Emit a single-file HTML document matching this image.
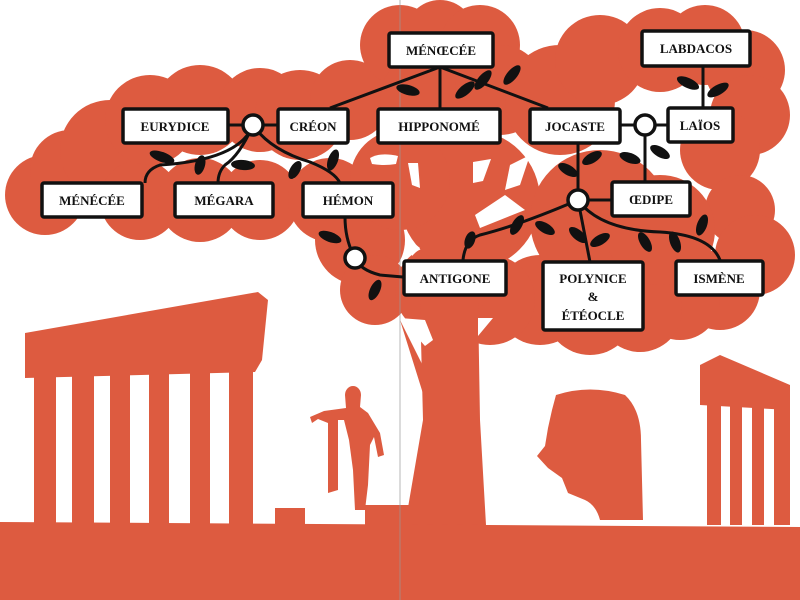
<!DOCTYPE html>
<html><head><meta charset="utf-8"><style>
html,body{margin:0;padding:0;background:#fff;}
svg{display:block}
text{font-family:"Liberation Serif","DejaVu Serif",serif;font-weight:bold;font-size:13px;fill:#111;text-anchor:middle;}
</style></head><body>
<svg width="800" height="600" viewBox="0 0 800 600" xmlns="http://www.w3.org/2000/svg">
<g fill="#dd5b40">
<circle cx="45" cy="195" r="40"/><circle cx="70" cy="170" r="40"/><circle cx="110" cy="150" r="50"/>
<circle cx="140" cy="200" r="40"/><circle cx="200" cy="200" r="42"/><circle cx="260" cy="200" r="40"/>
<circle cx="150" cy="120" r="45"/><circle cx="200" cy="110" r="45"/><circle cx="260" cy="110" r="42"/>
<circle cx="300" cy="115" r="45"/><circle cx="330" cy="200" r="42"/><circle cx="350" cy="100" r="40"/>
<circle cx="360" cy="240" r="45"/><circle cx="375" cy="290" r="35"/>
<circle cx="400" cy="45" r="40"/><circle cx="440" cy="35" r="35"/><circle cx="480" cy="45" r="40"/>
<circle cx="430" cy="100" r="50"/><circle cx="500" cy="90" r="45"/>
<circle cx="560" cy="100" r="55"/><circle cx="600" cy="60" r="45"/><circle cx="660" cy="50" r="42"/>
<circle cx="705" cy="45" r="40"/><circle cx="745" cy="70" r="40"/><circle cx="750" cy="115" r="40"/>
<circle cx="720" cy="150" r="40"/><circle cx="740" cy="210" r="35"/><circle cx="755" cy="255" r="40"/>
<circle cx="720" cy="290" r="40"/><circle cx="680" cy="300" r="40"/><circle cx="640" cy="310" r="42"/>
<circle cx="590" cy="310" r="45"/><circle cx="540" cy="300" r="45"/><circle cx="490" cy="300" r="45"/>
<circle cx="440" cy="290" r="45"/><circle cx="470" cy="200" r="70"/><circle cx="600" cy="220" r="70"/>
<circle cx="660" cy="230" r="55"/><circle cx="400" cy="180" r="50"/>
<path d="M420 300 L478 300 L480 420 L486 525 L405 525 L423 420 Z"/>
<path d="M400 320 L430 380 L425 400 Z"/>
<path d="M0 522 L800 527 L800 600 L0 600 Z"/>
<path d="M25 333 L258 292 L268 300 L262 360 L255 372 L25 378 Z"/>
<rect x="34" y="370" width="22" height="155"/>
<rect x="72" y="370" width="22" height="155"/>
<rect x="110" y="368" width="20" height="157"/>
<rect x="149" y="366" width="20" height="159"/>
<rect x="190" y="364" width="20" height="161"/>
<rect x="229" y="360" width="24" height="165"/>
<rect x="275" y="508" width="30" height="17"/>
<path d="M345 395 a8 9 0 0 1 16 0 l-1 12 l8 6 l12 20 l4 22 l-6 2 l-4 -20 l-4 8 l-2 40 l-3 25 l-10 0 l-2 -40 l-4 -30 l-5 -20 l-6 0 l0 70 l-10 3 l0 -70 l-10 -4 l-6 4 l-2 -6 l14 -6 l22 -3 Z"/>
<rect x="365" y="505" width="45" height="20"/>
<path d="M556 395 Q590 384 625 395 Q641 410 641 440 L643 520 L600 520 Q596 505 585 500 L568 493 L562 478 L548 468 L537 456 L545 446 L548 428 L552 410 Z"/>
<path d="M700 365 L720 355 L790 385 L790 410 L700 405 Z"/>
<rect x="707" y="400" width="14" height="125"/>
<rect x="730" y="405" width="12" height="120"/>
<rect x="752" y="405" width="12" height="120"/>
<rect x="774" y="400" width="16" height="125"/>
</g>
<g fill="#fff">
<path d="M370 158 q10 -6 28 -2 l-2 8 q-12 2 -24 0 Z"/>
<path d="M408 163 l10 0 l2 25 l-8 -3 Z"/>
<path d="M473 162 l18 -3 l-8 22 l-10 2 Z"/>
<path d="M510 165 l20 -10 l-10 30 l-15 5 Z"/>
<path d="M475 215 l30 -20 l20 15 l-45 18 Z"/>
<path d="M410 240 l10 8 l-8 8 Z"/>
<path d="M400 318 l25 2 l8 20 l-8 6 Z"/>
<path d="M478 318 l15 0 l-15 18 Z"/>
</g>
<line x1="400" y1="0" x2="400" y2="600" stroke="#999" stroke-width="0.7"/>
<g stroke="#111" stroke-width="3" fill="none">
<path d="M440 67 L440 108"/><path d="M440 67 L330 108"/><path d="M440 67 L548 108"/>
<path d="M703 66 L703 108"/>
<path d="M620 125 L668 125"/><path d="M645 125 L645 182"/>
<path d="M228 125 L278 125"/>
<path d="M578 143 L578 200 L612 200"/>
<path d="M578 200 Q520 225 480 235 Q465 240 463 260"/>
<path d="M578 200 L590 262"/>
<path d="M578 200 Q600 230 660 232 Q710 235 720 260"/>
<path d="M403 277 L380 275 Q360 270 355 258 Q345 240 345 217"/>
<path d="M253 125 Q240 160 160 165 Q145 170 145 183"/>
<path d="M253 125 Q240 155 225 165 Q218 172 218 183"/>
<path d="M253 125 Q270 150 310 162 Q335 172 340 183"/>
</g>
<g fill="#111">
<ellipse cx="408" cy="90" rx="12" ry="5" transform="rotate(15 408 90)"/>
<ellipse cx="465" cy="90" rx="12" ry="5" transform="rotate(-40 465 90)"/>
<ellipse cx="483" cy="80" rx="12" ry="5" transform="rotate(-50 483 80)"/>
<ellipse cx="512" cy="75" rx="12" ry="5" transform="rotate(-50 512 75)"/>
<ellipse cx="688" cy="83" rx="12" ry="5" transform="rotate(25 688 83)"/>
<ellipse cx="718" cy="90" rx="12" ry="5" transform="rotate(-30 718 90)"/>
<ellipse cx="630" cy="158" rx="11" ry="5" transform="rotate(20 630 158)"/>
<ellipse cx="660" cy="152" rx="11" ry="5" transform="rotate(30 660 152)"/>
<ellipse cx="592" cy="158" rx="11" ry="5" transform="rotate(-30 592 158)"/>
<ellipse cx="568" cy="170" rx="11" ry="5" transform="rotate(30 568 170)"/>
<ellipse cx="517" cy="225" rx="11" ry="5" transform="rotate(-60 517 225)"/>
<ellipse cx="545" cy="228" rx="11" ry="5" transform="rotate(30 545 228)"/>
<ellipse cx="470" cy="240" rx="9" ry="5" transform="rotate(-70 470 240)"/>
<ellipse cx="578" cy="235" rx="11" ry="5" transform="rotate(40 578 235)"/>
<ellipse cx="600" cy="240" rx="11" ry="5" transform="rotate(-30 600 240)"/>
<ellipse cx="645" cy="242" rx="11" ry="5" transform="rotate(60 645 242)"/>
<ellipse cx="675" cy="242" rx="11" ry="5" transform="rotate(70 675 242)"/>
<ellipse cx="702" cy="225" rx="11" ry="5" transform="rotate(-70 702 225)"/>
<ellipse cx="330" cy="237" rx="12" ry="5" transform="rotate(20 330 237)"/>
<ellipse cx="375" cy="290" rx="11" ry="5" transform="rotate(-65 375 290)"/>
<ellipse cx="162" cy="157" rx="13" ry="5" transform="rotate(20 162 157)"/>
<ellipse cx="200" cy="165" rx="10" ry="5" transform="rotate(-75 200 165)"/>
<ellipse cx="243" cy="165" rx="12" ry="5" transform="rotate(5 243 165)"/>
<ellipse cx="295" cy="170" rx="10" ry="5" transform="rotate(-60 295 170)"/>
<ellipse cx="333" cy="160" rx="11" ry="5" transform="rotate(-70 333 160)"/>
</g>
<g fill="#fff" stroke="#111" stroke-width="3.5">
<rect x="389" y="33" width="104" height="34" rx="2"/>
<rect x="642" y="31" width="108" height="35" rx="2"/>
<rect x="123" y="109" width="105" height="34" rx="2"/>
<rect x="278" y="109" width="70" height="34" rx="2"/>
<rect x="378" y="109" width="122" height="34" rx="2"/>
<rect x="530" y="109" width="90" height="34" rx="2"/>
<rect x="668" y="108" width="65" height="34" rx="2"/>
<rect x="42" y="183" width="100" height="34" rx="2"/>
<rect x="175" y="183" width="98" height="34" rx="2"/>
<rect x="303" y="183" width="90" height="34" rx="2"/>
<rect x="612" y="182" width="78" height="34" rx="2"/>
<rect x="404" y="261" width="102" height="34" rx="2"/>
<rect x="543" y="262" width="100" height="68" rx="2"/>
<rect x="676" y="261" width="87" height="34" rx="2"/>
<circle cx="253" cy="125" r="10"/><circle cx="645" cy="125" r="10"/>
<circle cx="578" cy="200" r="10"/><circle cx="355" cy="258" r="10"/>
</g>
<text x="441" y="55">MÉNŒCÉE</text>
<text x="696" y="53">LABDACOS</text>
<text x="175" y="131">EURYDICE</text>
<text x="313" y="131">CRÉON</text>
<text x="439" y="131">HIPPONOMÉ</text>
<text x="575" y="131">JOCASTE</text>
<text x="700" y="130">LAÏOS</text>
<text x="92" y="205">MÉNÉCÉE</text>
<text x="224" y="205">MÉGARA</text>
<text x="348" y="205">HÉMON</text>
<text x="651" y="204">ŒDIPE</text>
<text x="455" y="283">ANTIGONE</text>
<text x="593" y="283">POLYNICE</text>
<text x="593" y="301">&amp;</text>
<text x="593" y="320">ÉTÉOCLE</text>
<text x="719" y="283">ISMÈNE</text>
</svg>
</body></html>
